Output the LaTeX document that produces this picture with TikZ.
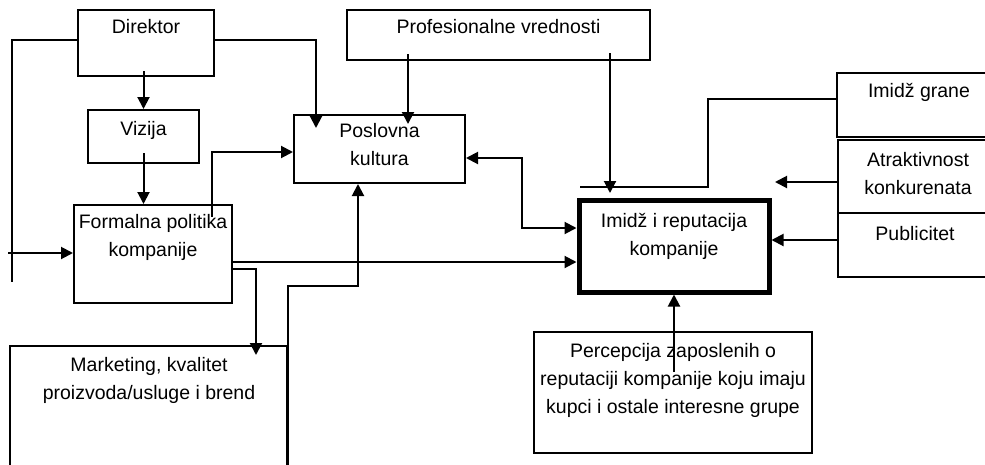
\documentclass[tikz,border=0pt]{standalone}
\usepackage{fontspec}
\setmainfont{Liberation Sans}
\usetikzlibrary{arrows.meta,calc}

\begin{document}
\begin{tikzpicture}[x=1pt,y=1pt,yscale=-1,xscale=1,
  box/.style={draw, line width=2pt, inner sep=0pt},
  lbl/.style={anchor=north, inner sep=0pt, align=center, font=\fontsize{19.5}{28}\selectfont},
  conn/.style={line width=2pt},
  arr/.style={line width=2pt, -{Triangle[length=12pt,width=12pt]}},
  biarr/.style={line width=2pt, {Triangle[length=12pt,width=12pt]}-{Triangle[length=12pt,width=12pt]}}]
\useasboundingbox (0,0) rectangle (985,464);

%Shape: Rectangle [Direktor]
\node [box, minimum width=136pt, minimum height=66pt] (dir) at (146,43) {};
%Shape: Rectangle [Vizija]
\node [box, minimum width=111pt, minimum height=53pt] (viz) at (143.5,136.5) {};
%Shape: Rectangle [Formalna politika]
\node [box, minimum width=158pt, minimum height=98pt] (form) at (153,254) {};
%Shape: Rectangle [Poslovna kultura]
\node [box, minimum width=171pt, minimum height=68pt] (posl) at (379.5,149) {};
%Shape: Rectangle [Profesionalne vrednosti]
\node [box, minimum width=303pt, minimum height=50pt] (prof) at (498.5,35) {};
%Shape: Rectangle [Imidz i reputacija]
\node [box, line width=5pt, minimum width=190pt, minimum height=92pt] (imidz) at (674,246) {};
%Shape: Rectangle [Imidz grane]
\node [box, minimum width=163pt, minimum height=64pt] (grane) at (918.5,105) {};
%Shape: Rectangle [Atraktivnost]
\node [box, minimum width=162pt, minimum height=73pt] (atr) at (919,176.5) {};
%Shape: Rectangle [Publicitet]
\node [box, minimum width=162pt, minimum height=64pt] (pub) at (919,245) {};
%Shape: Rectangle [Marketing]
\node [box, minimum width=277pt, minimum height=134pt] (mark) at (148.5,413) {};
%Shape: Rectangle [Percepcija]
\node [box, minimum width=278pt, minimum height=121pt] (perc) at (673,392.5) {};

% free ends of the connectors
\coordinate (lftend) at (12,282);
\coordinate (lftin) at (8,253);
\coordinate (dirposl) at (316,128);
\coordinate (profposl) at (408,124);
\coordinate (profimg) at (610,193);
\coordinate (grknee) at (708,187);
\coordinate (grend) at (580,187);
\coordinate (atrend) at (775,182);
\coordinate (pknee) at (522,158);
\coordinate (mkin) at (256,355);
\coordinate (mknee) at (358,286);

%Straight Lines
\draw [conn] (dir.west |- 0,40) -| (lftend);
\draw [arr] (lftin) -- (form.west |- lftin);
\draw [arr] (dir.east |- 0,40) -| (dirposl);
\draw [arr] ($(viz.north |- dir.south)+(0,-6)$) -- (viz.north);
\draw [arr] ($(viz.south)+(0,-11)$) -- (form.north -| viz.south);
\draw [arr] ($(form.north)+(59,13)$) |- (posl.west |- 0,152);
\draw [arr] ($(prof.south -| profposl)+(0,-7)$) -- (profposl);
\draw [arr] ($(prof.south -| profimg)+(0,-8)$) -- (profimg);
\draw [conn] (grane.west |- 0,99) -| (grknee) -- (grend);
\draw [arr] (atr.west |- atrend) -- (atrend);
\draw [arr] (pub.west |- 0,240) -- (imidz.east |- 0,240);
\draw [biarr] (posl.east |- pknee) -- (pknee) |- (imidz.west |- 0,228);
\draw [arr] (form.east |- 0,262) -- (imidz.west |- 0,262);
\draw [arr] (form.east |- 0,269) -| (mkin);
\draw [arr] (mark.south east) |- (mknee) -- (mknee |- posl.south);
\draw [arr] (imidz.south |- 0,372) -- (imidz.south);

% Text Node
\node [lbl] (dirtxt) at (146,19) {Direktor};
% Text Node
\node [lbl] (viztxt) at (143.5,121) {Vizija};
% Text Node
\node [lbl] (formtxt) at (153,214) {Formalna politika\\kompanije};
% Text Node
\node [lbl] (posltxt) at (379.5,123) {Poslovna\\kultura};
% Text Node
\node [lbl] (proftxt) at (498.5,19) {Profesionalne vrednosti};
% Text Node
\node [lbl] (imidztxt) at (674,213) {Imidž i reputacija\\kompanije};
% Text Node
\node [lbl] (granetxt) at (919,83) {Imidž grane};
% Text Node
\node [lbl] (atrtxt) at (918,152) {Atraktivnost\\konkurenata};
% Text Node
\node [lbl] (pubtxt) at (915,226) {Publicitet};
% Text Node
\node [lbl] (marktxt) at (149,357) {Marketing, kvalitet\\proizvoda/usluge i brend};
% Text Node
\node [lbl] (perctxt) at (673,343) {Percepcija zaposlenih o\\reputaciji kompanije koju imaju\\kupci i ostale interesne grupe};

\end{tikzpicture}
\end{document}
